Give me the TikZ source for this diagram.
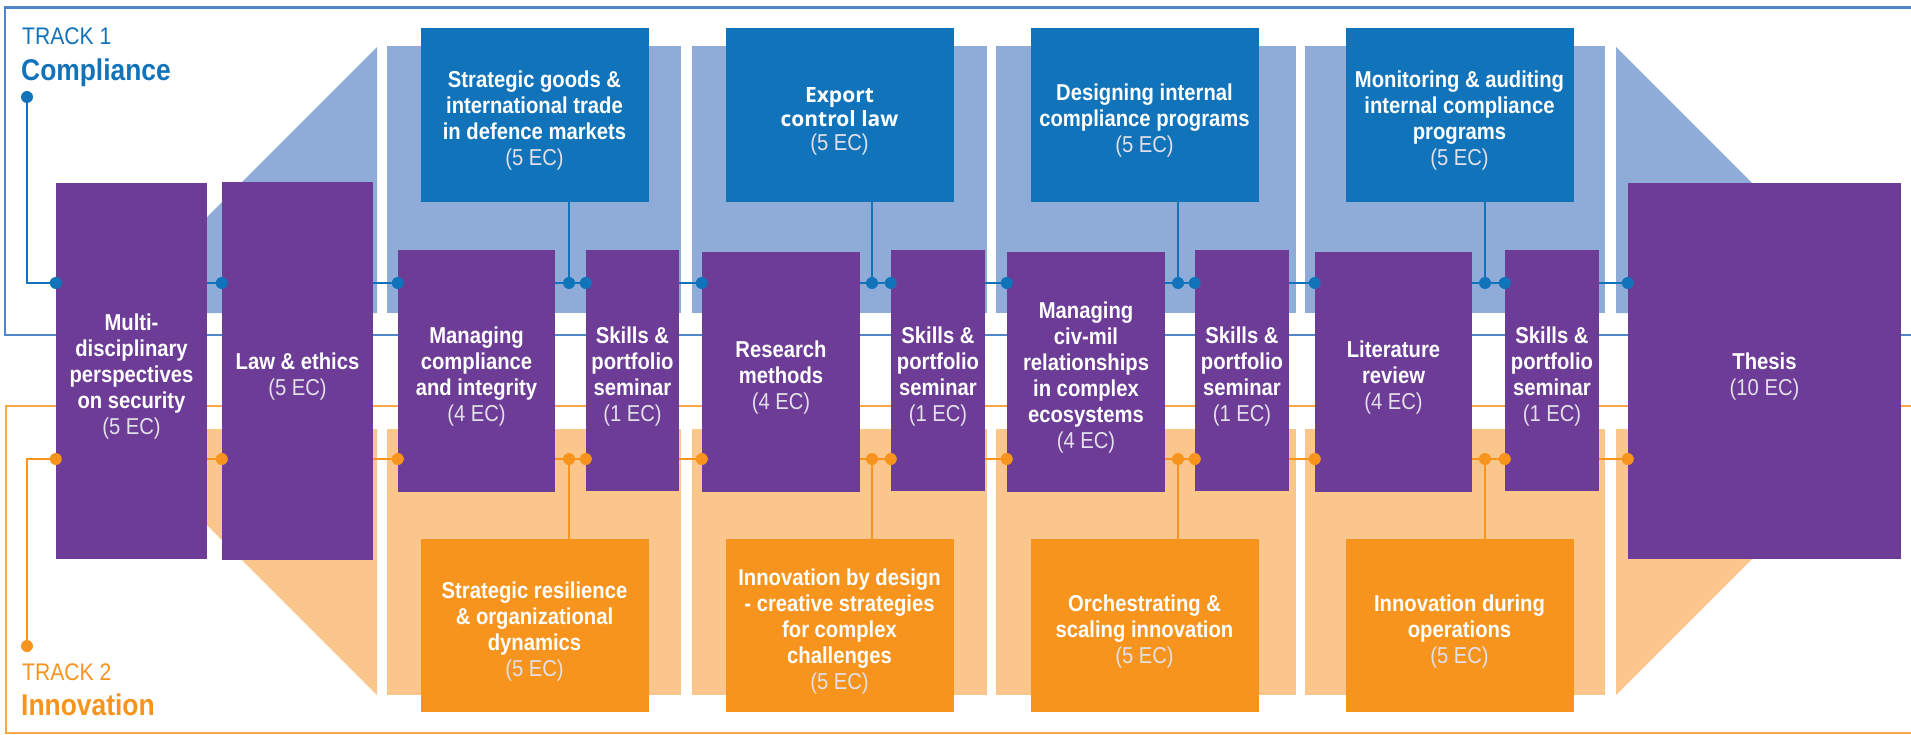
\documentclass[tikz,border=0pt]{standalone}
\usepackage{fontspec}
\setmainfont[FakeStretch=0.88]{Liberation Sans}
\newfontfamily\exportfont{Open Sans}
\usetikzlibrary{backgrounds}
\definecolor{purp}{RGB}{108,60,150}
\definecolor{cblue}{RGB}{17,115,186}
\definecolor{lblue}{RGB}{143,172,216}
\definecolor{corange}{RGB}{247,148,30}
\definecolor{lorange}{RGB}{251,198,139}
\definecolor{frameblue}{RGB}{80,133,200}
\definecolor{frameorange}{RGB}{248,166,72}
\definecolor{ecgray}{RGB}{226,224,232}
\newcommand{\ects}[1]{\\{\rmfamily\mdseries\fontsize{23}{26}\selectfont\color{ecgray}(#1 EC)}}
\newcommand{\topstrut}{\rule{0pt}{28pt}}

\tikzset{
	course/.style={fill=purp, text=white, inner sep=0pt, align=center,
		font=\fontsize{23}{26}\selectfont\bfseries},
	comp/.style={course, fill=cblue, minimum width=228, minimum height=174},
	innov/.style={course, fill=corange, minimum width=228, minimum height=173},
	bdot/.style={circle, fill=cblue, inner sep=0pt, minimum size=12},
	odot/.style={bdot, fill=corange},
	bline/.style={draw=cblue, line width=2},
	oline/.style={draw=corange, line width=2},
}

\begin{document}
\begin{tikzpicture}[x=1pt, y=-1pt]
			\useasboundingbox (0,0) rectangle (1911,735);
			\coordinate (bsp) at (0,283);
			\coordinate (osp) at (0,459);

			% gemeenschappelijke vakken
			\node[course, minimum width=151, minimum height=376] (multi) at (131.5,371) {\topstrut Multi-\\disciplinary\\perspectives\\on security\ects{5}};
			\node[course, minimum width=151, minimum height=377] (law) at (297.5,371) {\topstrut Law \& ethics\ects{5}};
			\node[course, minimum width=157, minimum height=242] (mci) at (476.5,371) {\topstrut Managing\\compliance\\and integrity\ects{4}};
			\node[course, minimum width=93, minimum height=241] (sk1) at (632.5,370.5) {\topstrut Skills \&\\portfolio\\seminar\ects{1}};
			\node[course, minimum width=158, minimum height=240] (res) at (781,372) {\topstrut Research\\methods\ects{4}};
			\node[course, minimum width=94, minimum height=241] (sk2) at (938,370.5) {\topstrut Skills \&\\portfolio\\seminar\ects{1}};
			\node[course, minimum width=158, minimum height=240] (civ) at (1086,372) {\topstrut Managing\\civ-mil\\relationships\\in complex\\ecosystems\ects{4}};
			\node[course, minimum width=94, minimum height=241] (sk3) at (1242,370.5) {\topstrut Skills \&\\portfolio\\seminar\ects{1}};
			\node[course, minimum width=157, minimum height=240] (lit) at (1393.5,372) {\topstrut Literature\\review\ects{4}};
			\node[course, minimum width=94, minimum height=241] (sk4) at (1552,370.5) {\topstrut Skills \&\\portfolio\\seminar\ects{1}};
			\node[course, minimum width=273, minimum height=376] (thesis) at (1764.5,371) {\topstrut Thesis\ects{10}};

			% track 1
			\node[comp] (strat) at (534.5,115) {\topstrut Strategic goods \&\\international trade\\in defence markets\ects{5}};
			\node[comp, font=\exportfont\fontsize{21}{24}\selectfont\bfseries] (export) at (839.5,115) {\topstrut Export\\control law\ects{5}};
			\node[comp] (design) at (1144.5,115) {\topstrut Designing internal\\compliance programs\ects{5}};
			\node[comp] (monit) at (1459.5,115) {\topstrut Monitoring \& auditing\\internal compliance\\programs\ects{5}};

			% track 2
			\node[innov] (resil) at (534.5,625.5) {\topstrut Strategic resilience\\\& organizational\\dynamics\ects{5}};
			\node[innov] (bydes) at (839.5,625.5) {\topstrut Innovation by design\\- creative strategies\\for complex\\challenges\ects{5}};
			\node[innov] (orch) at (1144.5,625.5) {\topstrut Orchestrating \&\\scaling innovation\ects{5}};
			\node[innov] (during) at (1459.5,625.5) {\topstrut Innovation during\\operations\ects{5}};

			% punten
			\foreach \v in {multi,law,mci,sk1,res,sk2,civ,sk3,lit,sk4,thesis} {
				\node[bdot] (b-\v) at (\v.west |- bsp) {};
				\node[odot] (o-\v) at (\v.west |- osp) {};
			}
			\foreach \i/\x in {1/569,2/872,3/1178,4/1485} {
				\node[bdot] (bj\i) at (\x,283) {};
				\node[odot] (oj\i) at (\x,459) {};
			}
			\node[bdot] (t1) at (27,97) {};
			\node[odot] (t2) at (27,646) {};

			% labels
			\node[anchor=base west, inner sep=0pt, text=cblue, font=\fontsize{24}{24}\selectfont] (trk1) at (22,45) {TRACK 1};
			\node[anchor=base west, inner sep=0pt, text=cblue, font=\fontsize{30}{30}\selectfont\bfseries] (trk1name) at (21,81) {Compliance};
			\node[anchor=base west, inner sep=0pt, text=corange, font=\fontsize{24}{24}\selectfont] (trk2) at (22,680) {TRACK 2};
			\node[anchor=base west, inner sep=0pt, text=corange, font=\fontsize{30}{30}\selectfont\bfseries] (trk2name) at (21,715) {Innovation};

			\begin{scope}[on background layer]
				% panelen
				\foreach \a/\b in {387/681,692/987,996/1296,1305/1605} {
					\fill[lblue] (\a,46) rectangle (\b,313);
					\fill[lorange] (\a,429) rectangle (\b,695);
				}
				\fill[lblue] (377,47) -- (377,313) -- (111,313) -- cycle;
				\fill[lorange] (377,429) -- (377,695) -- (111,429) -- cycle;
				\fill[lblue] (1616,47) -- (1616,313) -- (1882,313) -- cycle;
				\fill[lorange] (1616,429) -- (1616,695) -- (1882,429) -- cycle;

				% kaders
				\draw[frameblue, line width=2.5] (1911,7.5) -| (5,335) -- (1911,335);
				\draw[frameorange, line width=2.5] (1911,406) -| (6,733) -- (1911,733);

				% lijnen
				\draw[bline] (t1) |- (b-multi) -- (b-law) -- (b-mci) -- (bj1) -- (b-sk1) -- (b-res) -- (bj2) -- (b-sk2)
					-- (b-civ) -- (bj3) -- (b-sk3) -- (b-lit) -- (bj4) -- (b-sk4) -- (b-thesis);
				\draw[oline] (t2) |- (o-multi) -- (o-law) -- (o-mci) -- (oj1) -- (o-sk1) -- (o-res) -- (oj2) -- (o-sk2)
					-- (o-civ) -- (oj3) -- (o-sk3) -- (o-lit) -- (oj4) -- (o-sk4) -- (o-thesis);
				\foreach \i/\b/\o in {1/strat/resil,2/export/bydes,3/design/orch,4/monit/during} {
					\draw[bline] (\b.south -| bj\i) -- (bj\i);
					\draw[oline] (oj\i) -- (\o.north -| oj\i);
				}
			\end{scope}
		\end{tikzpicture}
\end{document}
